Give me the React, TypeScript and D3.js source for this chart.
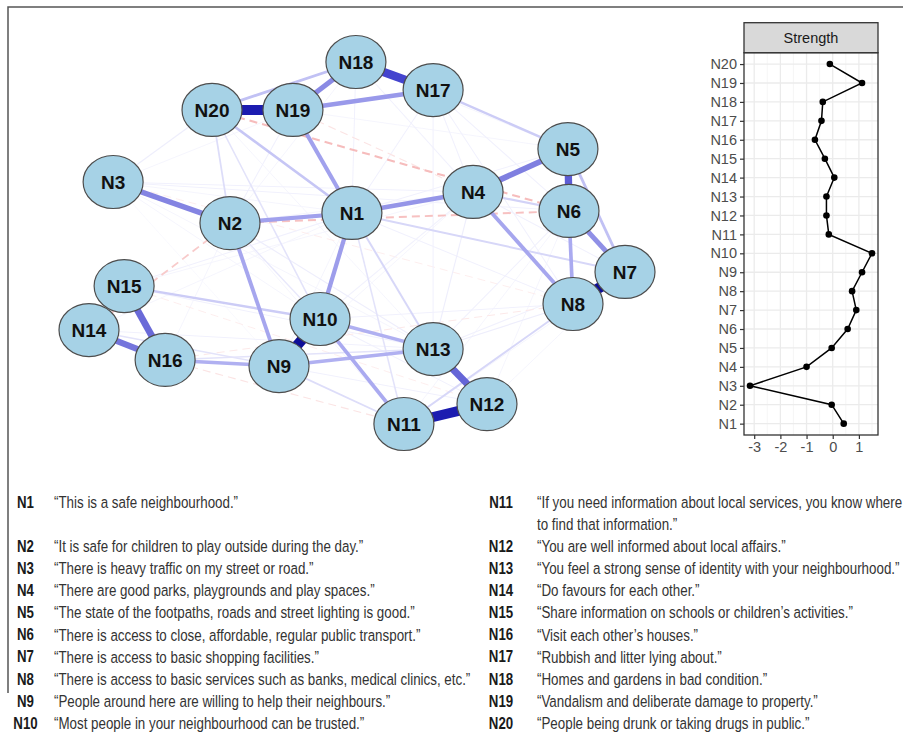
import React, { useRef, useEffect } from "react";
import * as d3 from "d3";

const nodeNames = [
  "N1", "N2", "N3", "N4", "N5", "N6", "N7", "N8", "N9", "N10",
  "N11", "N12", "N13", "N14", "N15", "N16", "N17", "N18", "N19", "N20",
];

// network layout (normalised -1..1, like qgraph)
const layoutX = [
  -0.019, -0.474, -0.91, 0.433, 0.787, 0.791, 1.0, 0.806, -0.291, -0.138,
  0.175, 0.485, 0.284, -1.0, -0.869, -0.716, 0.284, -0.004, -0.239, -0.541,
];
const layoutY = [
  0.166, 0.11, 0.337, 0.282, 0.519, 0.177, -0.16, -0.337, -0.68, -0.42,
  -1.0, -0.89, -0.586, -0.481, -0.238, -0.646, 0.845, 1.0, 0.735, 0.735,
];

// partial correlations: [from, to, weight] (negative = dashed red)
const edges: [number, number, number][] = [
  [20, 19, 0.9], [12, 11, 0.9], [7, 8, 0.95], [9, 10, 0.95], [18, 17, 0.75],
  [5, 6, 0.65], [13, 12, 0.62], [15, 16, 0.6], [14, 16, 0.55], [4, 5, 0.5],
  [3, 2, 0.48], [18, 19, 0.45], [6, 7, 0.42], [1, 4, 0.4], [17, 19, 0.38],
  [1, 10, 0.36], [2, 1, 0.34], [19, 1, 0.34], [2, 9, 0.32], [4, 8, 0.32],
  [6, 8, 0.3], [10, 11, 0.3], [9, 13, 0.28], [10, 13, 0.28], [16, 9, 0.28],
  [5, 7, 0.22], [20, 18, 0.22], [20, 1, 0.2], [15, 10, 0.18], [17, 5, 0.18],
  [4, 6, 0.16], [1, 13, 0.14], [1, 7, 0.14], [11, 8, 0.14], [9, 11, 0.12],
  [20, 2, 0.12], [20, 10, 0.1], [1, 11, 0.1], [14, 9, 0.1], [16, 13, 0.1],
  [2, 10, 0.08], [3, 20, 0.06], [3, 4, 0.05], [3, 6, 0.05], [2, 13, 0.06],
  [17, 6, 0.05], [18, 1, 0.05], [17, 8, 0.05], [13, 8, 0.06], [3, 1, 0.04],
  [3, 10, 0.04], [3, 9, 0.03], [3, 13, 0.04], [3, 19, 0.04], [2, 19, 0.05],
  [2, 18, 0.04], [2, 4, 0.04], [2, 11, 0.04], [2, 16, 0.04], [15, 1, 0.05],
  [15, 13, 0.05], [14, 13, 0.05], [9, 1, 0.04], [9, 4, 0.04], [9, 12, 0.05],
  [10, 4, 0.05], [10, 12, 0.05], [10, 8, 0.05], [13, 4, 0.06], [13, 6, 0.05],
  [13, 7, 0.05], [13, 17, 0.05], [11, 6, 0.04], [11, 7, 0.04], [12, 7, 0.04],
  [12, 6, 0.04], [17, 1, 0.05], [17, 4, 0.05], [18, 4, 0.05], [18, 5, 0.04],
  [19, 5, 0.04], [20, 13, 0.04], [1, 5, 0.05], [1, 8, 0.05], [4, 7, 0.05],
  [5, 8, 0.04], [14, 1, 0.04], [15, 4, 0.04],
  [20, 6, -0.15], [2, 6, -0.14], [14, 2, -0.12], [16, 11, -0.06],
  [16, 8, -0.05], [19, 4, -0.06], [3, 8, -0.04], [15, 12, -0.04],
];

const strength = [
  0.42, -0.04, -3.16, -1.0, -0.04, 0.57, 0.9, 0.74, 1.12, 1.5,
  -0.15, -0.24, -0.24, 0.06, -0.3, -0.68, -0.43, -0.38, 1.12, -0.11,
];
const strengthTicks = [-3, -2, -1, 0, 1];
const strengthMinor = [-2.5, -1.5, -0.5, 0.5, 1.5];

const legendLines: string[][] = [
  ["\u201CThis is a safe neighbourhood.\u201D"],
  ["\u201CIt is safe for children to play outside during the day.\u201D"],
  ["\u201CThere is heavy traffic on my street or road.\u201D"],
  ["\u201CThere are good parks, playgrounds and play spaces.\u201D"],
  ["\u201CThe state of the footpaths, roads and street lighting is good.\u201D"],
  ["\u201CThere is access to close, affordable, regular public transport.\u201D"],
  ["\u201CThere is access to basic shopping facilities.\u201D"],
  ["\u201CThere is access to basic services such as banks, medical clinics, etc.\u201D"],
  ["\u201CPeople around here are willing to help their neighbours.\u201D"],
  ["\u201CMost people in your neighbourhood can be trusted.\u201D"],
  ["\u201CIf you need information about local services, you know where", "to find that information.\u201D"],
  ["\u201CYou are well informed about local affairs.\u201D"],
  ["\u201CYou feel a strong sense of identity with your neighbourhood.\u201D"],
  ["\u201CDo favours for each other.\u201D"],
  ["\u201CShare information on schools or children\u2019s activities.\u201D"],
  ["\u201CVisit each other\u2019s houses.\u201D"],
  ["\u201CRubbish and litter lying about.\u201D"],
  ["\u201CHomes and gardens in bad condition.\u201D"],
  ["\u201CVandalism and deliberate damage to property.\u201D"],
  ["\u201CPeople being drunk or taking drugs in public.\u201D"],
];

const W = 903;
const H = 738;
const FONT = "'Liberation Sans', Arial, sans-serif";

const App: React.FC = () => {
  const svgRef = useRef<SVGSVGElement | null>(null);

  useEffect(() => {
    if (!svgRef.current) return;
    const svg = d3.select(svgRef.current);
    svg.selectAll("*").remove();

    svg.append("rect").attr("width", W).attr("height", H).attr("fill", "#fff");

    // outer frame (top and left only)
    svg.append("path")
      .attr("d", `M8,${H - 45} L8,7 L${W},7`)
      .attr("fill", "none")
      .attr("stroke", "#555")
      .attr("stroke-width", 1.5);

    // ---- network ----
    const xNet = d3.scaleLinear().domain([-1, 1]).range([89, 625]);
    const yNet = d3.scaleLinear().domain([-1, 1]).range([424, 62]);
    const widthScale = d3.scaleLinear().domain([0, 1]).range([0.5, 11]);
    const posColor = d3.scaleLinear<string>()
      .domain([0, 0.3, 0.6, 0.85, 1])
      .range(["#ffffff", "#aaaaf0", "#6a6ad8", "#2a2ac8", "#000080"]);
    const negColor = d3.scaleLinear<string>()
      .domain([0, 0.25])
      .range(["#ffffff", "#f09090"])
      .clamp(true);

    const sorted = [...edges].sort((a, b) => Math.abs(a[2]) - Math.abs(b[2]));
    const net = svg.append("g");
    net.selectAll("line.edge")
      .data(sorted)
      .join("line")
      .attr("class", "edge")
      .attr("x1", (d) => xNet(layoutX[d[0] - 1]))
      .attr("y1", (d) => yNet(layoutY[d[0] - 1]))
      .attr("x2", (d) => xNet(layoutX[d[1] - 1]))
      .attr("y2", (d) => yNet(layoutY[d[1] - 1]))
      .attr("stroke", (d) => (d[2] > 0 ? posColor(d[2]) : negColor(-d[2])))
      .attr("stroke-width", (d) => widthScale(Math.abs(d[2])))
      .attr("stroke-dasharray", (d) => (d[2] < 0 ? "8,5" : null));

    const nodes = net.selectAll("g.node")
      .data(nodeNames)
      .join("g")
      .attr("class", "node")
      .attr("transform", (d, i) => `translate(${xNet(layoutX[i])},${yNet(layoutY[i])})`);
    nodes.append("ellipse")
      .attr("rx", 30)
      .attr("ry", 26.5)
      .attr("fill", "#a6d2e6")
      .attr("stroke", "#4d4d4d")
      .attr("stroke-width", 1.2);
    nodes.append("text")
      .attr("text-anchor", "middle")
      .attr("dy", "0.36em")
      .attr("font-family", FONT)
      .attr("font-weight", "bold")
      .attr("font-size", 19)
      .attr("fill", "#111")
      .text((d) => d);

    // ---- strength plot ----
    const pL = 744, pR = 878, pT = 52.7, pB = 435, sT = 22.7;
    const xS = d3.scaleLinear().domain([-3.39, 1.73]).range([pL, pR]);
    const yS = d3.scalePoint<string>().domain(nodeNames).range([pB, pT]).padding(0.6);

    const sp = svg.append("g");
    sp.append("rect")
      .attr("x", pL).attr("y", pT).attr("width", pR - pL).attr("height", pB - pT)
      .attr("fill", "#fff");
    sp.selectAll("line.minor")
      .data(strengthMinor)
      .join("line")
      .attr("class", "minor")
      .attr("x1", (d) => xS(d)).attr("x2", (d) => xS(d))
      .attr("y1", pT).attr("y2", pB)
      .attr("stroke", "#f2f2f2").attr("stroke-width", 0.7);
    sp.selectAll("line.vmajor")
      .data(strengthTicks)
      .join("line")
      .attr("class", "vmajor")
      .attr("x1", (d) => xS(d)).attr("x2", (d) => xS(d))
      .attr("y1", pT).attr("y2", pB)
      .attr("stroke", "#ebebeb").attr("stroke-width", 1.3);
    sp.selectAll("line.hmajor")
      .data(nodeNames)
      .join("line")
      .attr("class", "hmajor")
      .attr("x1", pL).attr("x2", pR)
      .attr("y1", (d) => yS(d)!).attr("y2", (d) => yS(d)!)
      .attr("stroke", "#ebebeb").attr("stroke-width", 1.3);

    const line = d3.line<number>()
      .x((d) => xS(d))
      .y((d, i) => yS(nodeNames[i])!);
    sp.append("path")
      .attr("d", line(strength))
      .attr("fill", "none")
      .attr("stroke", "#000")
      .attr("stroke-width", 1.5);
    sp.selectAll("circle")
      .data(strength)
      .join("circle")
      .attr("cx", (d) => xS(d))
      .attr("cy", (d, i) => yS(nodeNames[i])!)
      .attr("r", 3.3)
      .attr("fill", "#000");

    sp.append("rect")
      .attr("x", pL).attr("y", pT).attr("width", pR - pL).attr("height", pB - pT)
      .attr("fill", "none").attr("stroke", "#333").attr("stroke-width", 1.3);
    sp.append("rect")
      .attr("x", pL).attr("y", sT).attr("width", pR - pL).attr("height", pT - sT)
      .attr("fill", "#d9d9d9").attr("stroke", "#333").attr("stroke-width", 1.3);
    sp.append("text")
      .attr("x", (pL + pR) / 2).attr("y", (sT + pT) / 2)
      .attr("dy", "0.36em")
      .attr("text-anchor", "middle")
      .attr("font-family", FONT)
      .attr("font-size", 14.5)
      .attr("fill", "#1a1a1a")
      .text("Strength");

    const yAxis = sp.append("g")
      .attr("transform", `translate(${pL},0)`)
      .call(d3.axisLeft(yS).tickSize(4).tickPadding(3));
    const xAxis = sp.append("g")
      .attr("transform", `translate(0,${pB})`)
      .call(
        d3.axisBottom(xS)
          .tickValues(strengthTicks)
          .tickFormat((d) => String(d))
          .tickSize(4)
          .tickPadding(3)
      );
    [yAxis, xAxis].forEach((ax) => {
      ax.select(".domain").remove();
      ax.selectAll(".tick line").attr("stroke", "#333").attr("stroke-width", 1.2);
      ax.selectAll(".tick text")
        .attr("font-family", FONT)
        .attr("font-size", 14.5)
        .attr("fill", "#4d4d4d");
    });

    // ---- legend ----
    const rowY = (r: number) => 502 + r * 22.1;
    const cols = [
      { start: 0, labelX: 25.5, textX: 54 },
      { start: 10, labelX: 501, textX: 537 },
    ];
    const lg = svg.append("g");
    cols.forEach((c) => {
      let r = 0;
      for (let i = c.start; i < c.start + 10; i++) {
        lg.append("text")
          .attr("transform", `translate(${c.labelX},${rowY(r)}) scale(0.84,1)`)
          .attr("dy", "0.36em")
          .attr("text-anchor", "middle")
          .attr("font-family", FONT)
          .attr("font-weight", "bold")
          .attr("font-size", 15.8)
          .attr("fill", "#1a1a1a")
          .text(nodeNames[i]);
        legendLines[i].forEach((t, k) => {
          lg.append("text")
            .attr("transform", `translate(${c.textX},${rowY(r + k)}) scale(0.81,1)`)
            .attr("dy", "0.36em")
            .attr("font-family", FONT)
            .attr("font-size", 16.5)
            .attr("fill", "#333")
            .text(t);
        });
        r += i === 0 ? 2 : legendLines[i].length;
      }
    });
  }, []);

  return (
    <svg
      ref={svgRef}
      width={W}
      height={H}
      style={{ position: "absolute", left: 0, top: 0, display: "block" }}
    />
  );
};

export default App;
